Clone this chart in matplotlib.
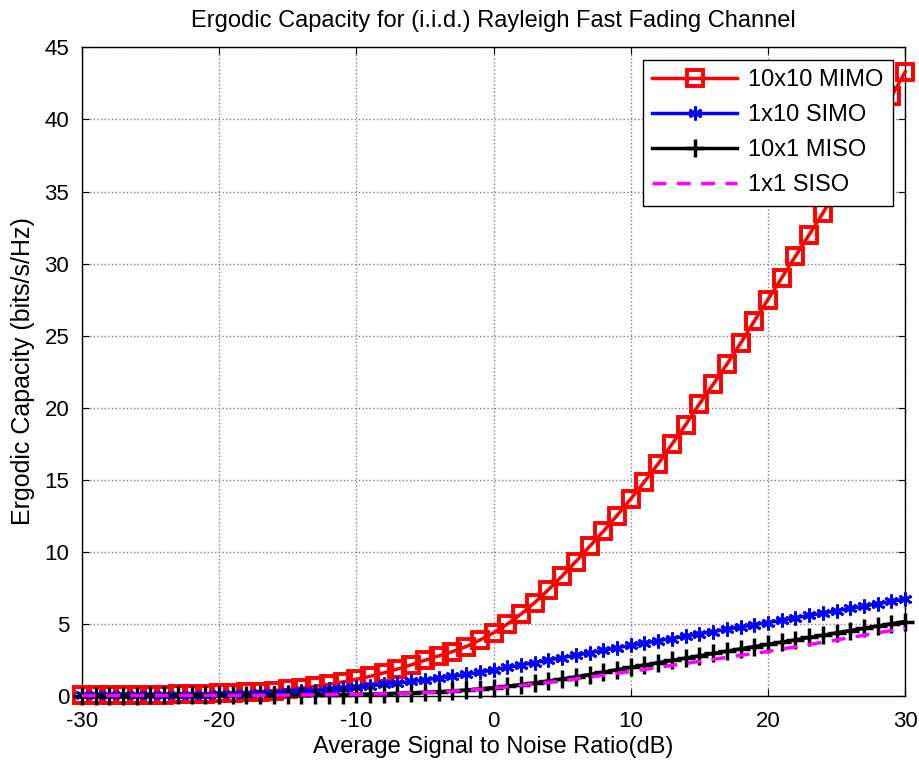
import numpy as np
import matplotlib
matplotlib.use('Agg')
import matplotlib.pyplot as plt

plt.rcParams['font.family'] = ['Liberation Sans', 'DejaVu Sans']
plt.rcParams['axes.unicode_minus'] = False

# SNR in dB, -30 .. 30 step 1
snr_db = list(range(-30, 31))

mimo = [0.02, 0.02, 0.03, 0.03, 0.04, 0.05, 0.06, 0.08, 0.10, 0.12,
        0.15, 0.18, 0.22, 0.27, 0.34, 0.42, 0.52, 0.64, 0.78, 0.94,
        1.12, 1.33, 1.57, 1.84, 2.13, 2.45, 2.75, 3.05, 3.40, 3.85,
        4.35, 4.95, 5.65, 6.45, 7.35, 8.30, 9.30, 10.35, 11.40, 12.50,
        13.65, 14.85, 16.10, 17.45, 18.80, 20.25, 21.60, 23.00, 24.45, 26.00,
        27.50, 29.00, 30.50, 32.00, 33.50, 35.10, 36.70, 38.30, 40.00, 41.60, 43.30]

simo = [0.01, 0.01, 0.01, 0.02, 0.02, 0.02, 0.03, 0.04, 0.05, 0.06,
        0.08, 0.10, 0.12, 0.15, 0.19, 0.23, 0.28, 0.34, 0.42, 0.50,
        0.58, 0.67, 0.77, 0.87, 0.98, 1.09, 1.21, 1.34, 1.47, 1.62,
        1.78, 1.95, 2.12, 2.29, 2.46, 2.63, 2.80, 2.97, 3.14, 3.31,
        3.48, 3.64, 3.80, 3.96, 4.12, 4.28, 4.44, 4.60, 4.76, 4.92,
        5.07, 5.23, 5.40, 5.56, 5.72, 5.89, 6.05, 6.21, 6.38, 6.54, 6.70]

miso = [0.00, 0.00, 0.00, 0.00, 0.00, 0.01, 0.01, 0.01, 0.01, 0.01,
        0.01, 0.01, 0.02, 0.02, 0.03, 0.03, 0.04, 0.05, 0.06, 0.07,
        0.08, 0.10, 0.12, 0.15, 0.18, 0.22, 0.27, 0.32, 0.38, 0.46,
        0.55, 0.65, 0.76, 0.88, 1.01, 1.15, 1.30, 1.46, 1.62, 1.79,
        1.96, 2.12, 2.28, 2.44, 2.60, 2.76, 2.92, 3.08, 3.24, 3.40,
        3.55, 3.71, 3.87, 4.03, 4.19, 4.35, 4.51, 4.67, 4.83, 4.99, 5.14]

siso = [0.00, 0.00, 0.00, 0.00, 0.00, 0.00, 0.01, 0.01, 0.01, 0.01,
        0.01, 0.01, 0.02, 0.02, 0.03, 0.03, 0.04, 0.05, 0.06, 0.07,
        0.08, 0.10, 0.12, 0.14, 0.17, 0.21, 0.25, 0.30, 0.36, 0.43,
        0.51, 0.60, 0.70, 0.80, 0.91, 1.03, 1.15, 1.28, 1.41, 1.54,
        1.67, 1.81, 1.95, 2.09, 2.23, 2.37, 2.51, 2.65, 2.79, 2.93,
        3.06, 3.22, 3.38, 3.54, 3.70, 3.86, 4.03, 4.19, 4.35, 4.52, 4.68]

labels = ['10x10 MIMO', '1x10 SIMO', '10x1 MISO', '1x1 SISO']

fig = plt.figure(figsize=(9.19, 7.66), dpi=100)
ax = fig.add_axes([0.089, 0.092, 0.896, 0.846])

ax.plot(snr_db, mimo, color='red', lw=2.5, marker='s', ms=11.5, mew=2.8,
        mfc='none', label=labels[0], clip_on=False, zorder=3)
# matlab style asterisk marker
ax.plot(snr_db, simo, color='blue', lw=2.5, marker=(6, 2, 0), ms=10, mew=2,
        label=labels[1], clip_on=False, zorder=4)
ax.plot(snr_db, miso, color='black', lw=2.5, marker='+', ms=13, mew=2.5,
        label=labels[2], clip_on=False, zorder=5)
ax.plot(snr_db, siso, color='magenta', lw=2.5, ls='--', dashes=(4, 3),
        label=labels[3], clip_on=False, zorder=6)

ax.set_xlim(-30, 30)
ax.set_ylim(0, 45)
ax.set_xticks(range(-30, 31, 10))
ax.set_yticks(range(0, 46, 5))
ax.tick_params(direction='in', top=True, right=True, labelsize=16, length=5)
ax.tick_params(axis='x', pad=11)
ax.tick_params(axis='y', pad=9)
ax.grid(True, color='#808080', ls=':', lw=1)
for s in ax.spines.values():
    s.set_linewidth(1)

ax.set_title('Ergodic Capacity for (i.i.d.) Rayleigh Fast Fading Channel',
             fontsize=17, pad=15)
ax.set_xlabel('Average Signal to Noise Ratio(dB)', fontsize=17, labelpad=3)
ax.set_ylabel('Ergodic Capacity (bits/s/Hz)', fontsize=18, labelpad=7)

leg = ax.legend(loc='upper right', bbox_to_anchor=(0.985, 0.981), fontsize=17,
                fancybox=False, framealpha=1, edgecolor='black',
                handlelength=3.6, handletextpad=0.45, labelspacing=0.55,
                borderaxespad=0)
leg.get_frame().set_linewidth(1)

fig.savefig('out.png', dpi=100)
